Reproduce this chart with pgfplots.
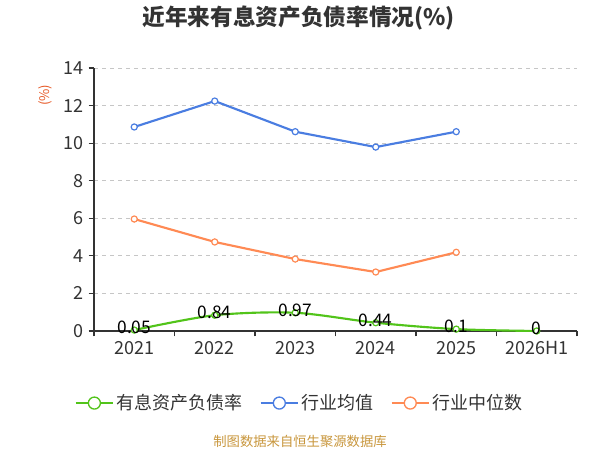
\documentclass[border=0pt]{standalone}
\usepackage{pgfplots}
\pgfplotsset{compat=1.18}
\usepackage{fontspec}
\setmainfont{Noto Sans CJK SC}
\definecolor{cgreen}{RGB}{82,196,26}
\definecolor{cblue}{RGB}{74,125,225}
\definecolor{corange}{RGB}{255,138,84}
\definecolor{ctext}{RGB}{51,51,51}
\definecolor{cfoot}{RGB}{200,150,60}
\definecolor{cunit}{RGB}{230,90,40}
\begin{document}
\begin{tikzpicture}
\useasboundingbox (0,0) rectangle (450pt,337.5pt);
\node[font=\fontsize{17pt}{18pt}\selectfont\bfseries, text=ctext] at (224pt,324pt) {近年来有息资产负债率情况(\%)};
\node[font=\fontsize{10pt}{11pt}\selectfont, text=cunit, rotate=90] at (34pt,266pt) {(\%)};
\node[font=\fontsize{10pt}{11pt}\selectfont, text=cfoot] at (225pt,6.75pt) {制图数据来自恒生聚源数据库};
\begin{axis}[
  at={(70.5pt,89.25pt)}, anchor=south west,
  scale only axis, width=362.25pt, height=197.25pt,
  xmin=-0.5, xmax=5.5, ymin=0, ymax=14,
  ytick={0,2,...,14},
  xtick={-0.5,0.5,...,5.5}, xticklabels={},
  extra x ticks={0,1,2,3,4,5},
  extra x tick labels={2021,2022,2023,2024,2025,2026H1},
  extra x tick style={major tick length=0pt, grid=none, tick label style={yshift=-4pt}},
  axis lines*=left,
  axis line style={draw=ctext, line width=0.8pt},
  tick style={draw=ctext, line width=0.8pt},
  tick align=outside, major tick length=4pt,
  ymajorgrids, grid style={dashed, gray!45, line width=0.7pt},
  tick label style={font=\fontsize{13.5pt}{14pt}\selectfont, text=ctext},
  /pgf/number format/assume math mode=true,
  clip=false,
  legend columns=3,
  legend style={at={(0.4265,-0.274)}, anchor=center, draw=none, fill=none,
    font=\fontsize{13.5pt}{14pt}\selectfont, text=ctext,
    /tikz/every even column/.append style={column sep=11pt}},
  legend image code/.code={
    \draw[#1, line width=1.2pt, mark=none] (0pt,0pt) -- (28pt,0pt);
    \draw[#1, line width=1pt, fill=white, mark=none] (14pt,0pt) circle (4.5pt);
  },
]
\addplot[color=cgreen, line width=1.6pt, smooth, mark=*, mark size=2.3pt, mark options={fill=white, line width=0.9pt},
  nodes near coords, point meta=explicit symbolic,
  every node near coord/.append style={anchor=center, yshift=2pt, font=\fontsize{13pt}{14pt}\selectfont, text=black}]
  coordinates {(0,0.05)[0.05] (1,0.84)[0.84] (2,0.97)[0.97] (3,0.44)[0.44] (4,0.1)[0.1] (5,0)[0]};
\addlegendentry{有息资产负债率}
\addplot[color=cblue, line width=1.6pt, mark=*, mark size=2.3pt, mark options={fill=white, line width=0.9pt}]
  coordinates {(0,10.86) (1,12.24) (2,10.61) (3,9.79) (4,10.61)};
\addlegendentry{行业均值}
\addplot[color=corange, line width=1.6pt, mark=*, mark size=2.3pt, mark options={fill=white, line width=0.9pt}]
  coordinates {(0,5.96) (1,4.74) (2,3.83) (3,3.14) (4,4.19)};
\addlegendentry{行业中位数}
\end{axis}
\end{tikzpicture}
\end{document}
